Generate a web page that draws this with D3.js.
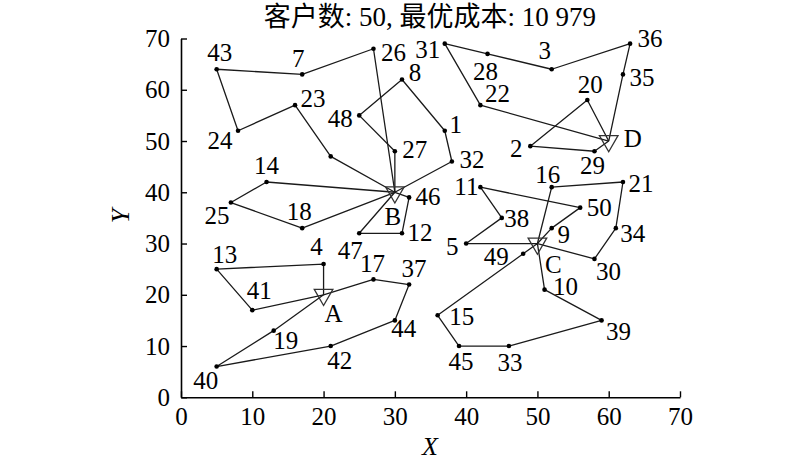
<!DOCTYPE html>
<html>
<head>
<meta charset="utf-8">
<script src="https://cdn.jsdelivr.net/npm/d3@7"></script>
<style>
  html, body { margin: 0; padding: 0; background: #fff; }
  svg { display: block; }
  text { font-family: "Liberation Serif", "Times New Roman", "Noto Sans CJK SC", serif; fill: #000; }
</style>
</head>
<body>
<svg id="chart" width="800" height="467"></svg>
<script>
// ---------------- data ----------------
const titleText = "客户数: 50, 最优成本: 10 979";
const customerIds = [1,2,3,4,5,6,7,8,9,10,11,12,13,14,15,16,17,18,19,20,21,22,23,24,25,26,27,28,29,30,31,32,33,34,35,36,37,38,39,40,41,42,43,44,45,46,47,48,49,50];
const customerX = [37,49,52,20,40,21,17,31,52,51,42,31,5,12,36,52,27,17,13,57,62,42,16,8,7,27,30,43,58,58,37,38,46,61,62,63,32,45,59,5,10,21,5,30,39,32,25,25,48,56];
const customerY = [52,49,64,26,30,47,63,62,33,21,41,32,25,42,16,41,23,33,13,58,42,57,57,52,38,68,48,67,48,27,69,46,10,33,63,69,22,35,15,6,17,10,64,15,10,39,32,55,28,37];
const hiddenLabels = [6];
const depotNames = ["A","B","C","D"];
const depotX = [20,30,50,60];
const depotY = [20,40,30,50];
const routeDepots = ["D","D","B","B","B","B","A","A","C","C","C"];
const routeStops = [
  [22,31,28,3,36,35],
  [20,2,29],
  [27,48,8,1,32],
  [26,7,43,24,23,6],
  [14,25,18],
  [46,12,47],
  [4,13,41],
  [17,37,44,42,40,19],
  [9,50,11,38,5],
  [16,21,34,30],
  [10,39,33,45,15,49]
];
const xTicks = [0,10,20,30,40,50,60,70];
const yTicks = [0,10,20,30,40,50,60,70];
const xLabel = "X";
const yLabel = "Y";

// ---------------- label placement (layout only) ----------------
const labelOffset = {
  1:[11,2], 2:[-14,11], 3:[-7,-10], 4:[-7,-9], 5:[-14,11], 7:[-4,-7], 8:[13,1], 9:[12,15],
  10:[21,5], 11:[-14,8], 12:[18,8], 13:[8,-6], 14:[0,-8], 15:[24,10], 16:[-4,-4], 17:[-1,-7],
  18:[-3,-8], 19:[12,18], 20:[3,-7], 21:[18,10], 22:[17,-3], 23:[18,2], 24:[-18,18], 25:[-14,21],
  26:[20,12], 27:[20,7], 28:[-2,26], 29:[-2,23], 30:[14,21], 31:[-17,14], 32:[20,6], 33:[1,25],
  34:[17,14], 35:[19,12], 36:[20,3], 37:[5,-8], 38:[15,9], 39:[17,20], 40:[-11,22], 41:[7,-11],
  42:[9,23], 43:[3,-8], 44:[9,17], 45:[2,24], 46:[19,8], 47:[-9,26], 48:[-19,12], 49:[-27,11], 50:[19,8]
};
const depotLabelOffset = { A:[10,27], B:[-2,33], C:[16,29], D:[24,6] };

// ---------------- drawing ----------------
const svg = d3.select("#chart");
const x = d3.scaleLinear().domain([0,70]).range([181,680]);
const y = d3.scaleLinear().domain([0,70]).range([397.3,38.5]);

const cust = new Map(customerIds.map((id,i)=>[id,{x:customerX[i], y:customerY[i]}]));
const dep = new Map(depotNames.map((n,i)=>[n,{x:depotX[i], y:depotY[i]}]));

// axes
const gx = svg.append("g").attr("transform",`translate(0,${y(0)})`)
  .call(d3.axisBottom(x).tickValues(xTicks).tickFormat(d3.format("d")).tickSizeInner(-6).tickSizeOuter(0).tickPadding(10));
const gy = svg.append("g").attr("transform",`translate(${x(0)},0)`)
  .call(d3.axisLeft(y).tickValues(yTicks).tickFormat(d3.format("d")).tickSizeInner(-6).tickSizeOuter(0).tickPadding(11));
[gx,gy].forEach(g=>{
  g.select(".domain").attr("stroke","#000").attr("stroke-width",1.6);
  g.selectAll(".tick line").attr("stroke","#000").attr("stroke-width",1.4);
  g.selectAll(".tick text").attr("font-size",25).attr("font-family",'"Liberation Serif", serif').attr("fill","#000");
});

// routes
const line = d3.line().x(d=>x(d.x)).y(d=>y(d.y));
routeStops.forEach((stops,i)=>{
  const d0 = dep.get(routeDepots[i]);
  const pts = [d0, ...stops.map(s=>cust.get(s)), d0];
  svg.append("path").attr("d",line(pts)).attr("fill","none")
    .attr("stroke","#1a1a1a").attr("stroke-width",1.3).attr("stroke-linejoin","round");
});

// customer dots
svg.append("g").selectAll("circle").data(customerIds).join("circle")
  .attr("cx",id=>x(cust.get(id).x)).attr("cy",id=>y(cust.get(id).y)).attr("r",2.3).attr("fill","#000");

// depot triangles
const tri = d3.symbol().type(d3.symbolTriangle).size(150);
svg.append("g").selectAll("path").data(depotNames).join("path")
  .attr("d",tri)
  .attr("transform",n=>`translate(${x(dep.get(n).x)},${y(dep.get(n).y)}) rotate(180)`)
  .attr("fill","none").attr("stroke","#333").attr("stroke-width",1.3);

// customer labels
svg.append("g").selectAll("text").data(customerIds.filter(id=>!hiddenLabels.includes(id))).join("text")
  .attr("x",id=>x(cust.get(id).x)+labelOffset[id][0])
  .attr("y",id=>y(cust.get(id).y)+labelOffset[id][1])
  .attr("text-anchor","middle").attr("font-size",25)
  .text(id=>id);

// depot labels
svg.append("g").selectAll("text").data(depotNames).join("text")
  .attr("x",n=>x(dep.get(n).x)+depotLabelOffset[n][0])
  .attr("y",n=>y(dep.get(n).y)+depotLabelOffset[n][1])
  .attr("text-anchor","middle").attr("font-size",25)
  .text(n=>n);

// title & axis titles
svg.append("text").attr("x",430).attr("y",26).attr("text-anchor","middle").attr("font-size",27)
  .style("font-family",'"Liberation Serif", "Noto Sans CJK SC", serif').text(titleText);
svg.append("text").attr("x",430).attr("y",455).attr("text-anchor","middle").attr("font-size",26)
  .attr("font-style","italic").text(xLabel);
svg.append("text").attr("transform","translate(129,216) rotate(-90)").attr("text-anchor","middle")
  .attr("font-size",26).attr("font-style","italic").text(yLabel);
</script>
</body>
</html>
